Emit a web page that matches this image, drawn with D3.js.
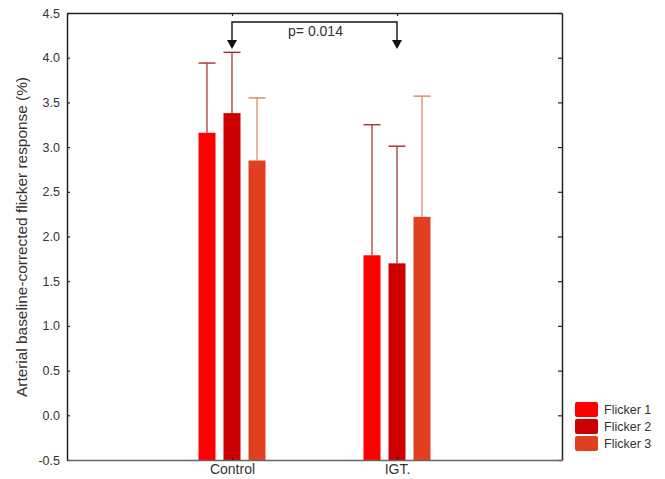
<!DOCTYPE html>
<html>
<head>
<meta charset="utf-8">
<script src="https://cdn.jsdelivr.net/npm/d3@7"></script>
<style>
  body { margin: 0; background: #fff; }
  text { font-family: "Liberation Sans", Arial, sans-serif; fill: #333; }
</style>
</head>
<body>
<svg id="chart"></svg>
<script>
const groups = ["Control", "IGT."];
const series = ["Flicker 1", "Flicker 2", "Flicker 3"];
const means = [
  [3.16, 3.38, 2.85],   // Control
  [1.79, 1.70, 2.22]    // IGT.
];
const upper = [
  [3.94, 4.06, 3.55],
  [3.25, 3.01, 3.57]
];
const yTicks = [-0.5, 0, 0.5, 1, 1.5, 2, 2.5, 3, 3.5, 4, 4.5];
const barColors = ["#ff0000", "#cc0000", "#e04020"];
const errColors = ["#b03a3a", "#a83636", "#d4906e"];
const pLabel = "p= 0.014";

const width = 665, height = 479;
const margin = { top: 13, right: 103, bottom: 19, left: 67 };

const svg = d3.select("#chart")
  .attr("width", width)
  .attr("height", height);

const x = d3.scalePoint()
  .domain(groups)
  .range([margin.left, width - margin.right])
  .padding(1);

const sub = d3.scalePoint()
  .domain(series)
  .range([-25, 25]);

const y = d3.scaleLinear()
  .domain([-0.5, 4.5])
  .range([height - margin.bottom, margin.top]);

const barW = 17;

// bars + error bars
groups.forEach((g, gi) => {
  const gEl = svg.append("g");
  series.forEach((s, si) => {
    const cx = x(g) + sub(s);
    gEl.append("line")
      .attr("x1", cx).attr("x2", cx)
      .attr("y1", y(means[gi][si])).attr("y2", y(upper[gi][si]))
      .attr("stroke", errColors[si]).attr("stroke-width", 1.3);
    gEl.append("line")
      .attr("x1", cx - barW / 2).attr("x2", cx + barW / 2)
      .attr("y1", y(upper[gi][si])).attr("y2", y(upper[gi][si]))
      .attr("stroke", errColors[si]).attr("stroke-width", 1.5);
    gEl.append("rect")
      .attr("x", cx - barW / 2)
      .attr("y", y(means[gi][si]))
      .attr("width", barW)
      .attr("height", y(-0.5) - y(means[gi][si]))
      .attr("fill", barColors[si]);
  });
});

// axes
const axisL = svg.append("g")
  .attr("transform", `translate(${margin.left},0)`)
  .call(d3.axisLeft(y).tickValues(yTicks).tickFormat(d => d.toFixed(1)).tickSizeInner(-3).tickSizeOuter(0).tickPadding(7));
const axisR = svg.append("g")
  .attr("transform", `translate(${width - margin.right},0)`)
  .call(d3.axisRight(y).tickValues(yTicks).tickFormat("").tickSizeInner(-4).tickSizeOuter(0));
const axisB = svg.append("g")
  .attr("transform", `translate(0,${height - margin.bottom})`)
  .call(d3.axisBottom(x).tickSizeInner(-3).tickSizeOuter(0).tickPadding(5));
const axisT = svg.append("g")
  .attr("transform", `translate(0,${margin.top})`)
  .call(d3.axisTop(x).tickFormat("").tickSizeInner(-3).tickSizeOuter(0));

[axisL, axisR, axisB, axisT].forEach(a => {
  a.select(".domain").attr("stroke", "#222").attr("stroke-width", 1.5);
  a.selectAll(".tick line").attr("stroke", "#222").attr("stroke-width", 1.2);
  a.selectAll(".tick text").attr("font-size", 12.5).attr("fill", "#333")
    .style("font-family", "'Liberation Sans', Arial, sans-serif");
});
axisB.select(".domain").attr("stroke", "#666");
axisB.selectAll(".tick text").attr("font-size", 14).attr("dy", "0.62em");

// y label
svg.append("text")
  .attr("transform", `translate(27,237) rotate(-90)`)
  .attr("text-anchor", "middle")
  .attr("font-size", 15)
  .attr("textLength", 320)
  .attr("lengthAdjust", "spacingAndGlyphs")
  .text("Arterial baseline-corrected flicker response (%)");

// significance bracket
const bx1 = x("Control"), bx2 = x("IGT.") + sub("Flicker 2") * 0.4;
const by = 22, tipY = 49;
svg.append("path")
  .attr("d", `M${bx1},${tipY - 8}V${by}H${bx2}V${tipY - 8}`)
  .attr("fill", "none").attr("stroke", "#111").attr("stroke-width", 1.4);
[bx1, bx2].forEach(bx => {
  svg.append("path")
    .attr("d", `M${bx - 5},${tipY - 9}L${bx + 5},${tipY - 9}L${bx},${tipY}Z`)
    .attr("fill", "#111");
});
svg.append("text")
  .attr("x", (bx1 + bx2) / 2 + 1)
  .attr("y", 36)
  .attr("text-anchor", "middle")
  .attr("font-size", 14)
  .text(pLabel);

// legend
const legend = svg.append("g").attr("transform", "translate(575,402)");
series.forEach((s, i) => {
  const row = legend.append("g").attr("transform", `translate(0,${i * 17})`);
  row.append("rect").attr("width", 23).attr("height", 15).attr("rx", 2).attr("fill", barColors[i]);
  row.append("text").attr("x", 29).attr("y", 12).attr("font-size", 12.5).text(s);
});
</script>
</body>
</html>
